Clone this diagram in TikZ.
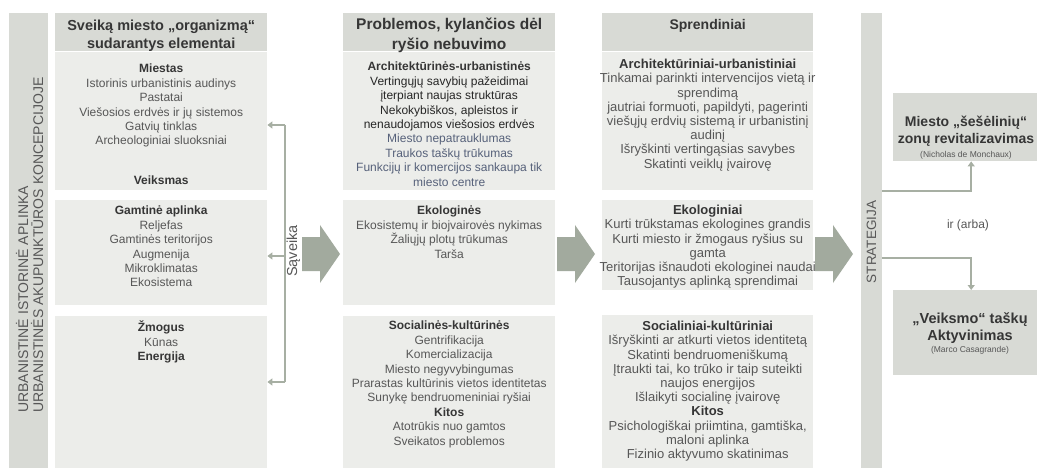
\documentclass[tikz,border=0pt]{standalone}
\usepackage{fontspec}
\setmainfont{Liberation Sans}
\usetikzlibrary{positioning,arrows.meta}
\definecolor{panelgray}{HTML}{D8DAD5}
\definecolor{cellgray}{HTML}{ECEDEA}
\definecolor{arrowgray}{HTML}{A2AA9E}
\definecolor{linkgray}{HTML}{A7AFA3}
\definecolor{titlegray}{HTML}{363636}
\definecolor{textgray}{HTML}{575757}
\definecolor{darkgray}{HTML}{262626}
\definecolor{slategray}{HTML}{56617A}
\newcommand{\subhd}[1]{{\bfseries\color{titlegray}#1}}
\begin{document}
\begin{tikzpicture}[x=1pt,y=-1pt,
  bar/.style={fill=panelgray,inner sep=0pt,anchor=north west},
  headcell/.style={fill=panelgray,inner sep=0pt,anchor=north west,minimum width=212pt,minimum height=38pt},
  cell/.style={fill=cellgray,inner sep=0pt,anchor=north west,minimum width=212pt},
  headtxt/.style={font=\bfseries\fontsize{14.5}{18}\selectfont,text=titlegray,align=center,inner sep=0pt},
  celltxt/.style={font=\fontsize{12}{14.4}\selectfont,text=textgray,align=center,inner sep=0pt},
  soltxt/.style={font=\fontsize{13}{14.2}\selectfont,text=textgray,align=center,inner sep=0pt},
  bartxt/.style={font=\fontsize{12.8}{13}\selectfont,text=textgray,rotate=90,inner sep=0pt},
  link/.style={draw=linkgray,line width=1.8pt,-{Triangle[width=7pt,length=5pt]}},
  bigarrow/.style={fill=arrowgray}]
\useasboundingbox (0,0) rectangle (1037,468);
% side bars
\node[bar,minimum width=39pt,minimum height=455pt] (sidebar) at (9,13) {};
\node[bar,minimum width=21pt,minimum height=455pt] (stratbar) at (861,13) {};
\node[bartxt,font=\fontsize{14}{15}\selectfont,align=left,anchor=west] (sidetxt) at (29.5,413)
  {URBANISTINĖ ISTORINĖ APLINKA\\URBANISTINĖS AKUPUNKTŪROS KONCEPCIJOJE};
\node[bartxt,font=\fontsize{13.5}{15}\selectfont] (strattxt) at (871.5,242) {STRATEGIJA};
% column 1
\node[headcell] (elemhead) at (55,13) {};
\node[cell,minimum height=138pt] (citybox) at (55,52) {};
\node[cell,minimum height=105pt] (naturebox) at (55,200) {};
\node[cell,minimum height=152pt] (humanbox) at (55,316) {};
\node[headtxt,below=7pt of elemhead.north] {Sveiką miesto „organizmą“\\sudarantys elementai};
\node[celltxt,below=12pt of citybox.north] {\subhd{Miestas}\\Istorinis urbanistinis audinys\\Pastatai\\
  Viešosios erdvės ir jų sistemos\\Gatvių tinklas\\Archeologiniai sluoksniai};
\node[celltxt,above=6pt of citybox.south] {\subhd{Veiksmas}};
\node[celltxt,below=6pt of naturebox.north] {\subhd{Gamtinė aplinka}\\Reljefas\\Gamtinės teritorijos\\
  Augmenija\\Mikroklimatas\\Ekosistema};
\node[celltxt,below=5pt of humanbox.north] {\subhd{Žmogus}\\Kūnas\\\subhd{Energija}};
% column 2
\node[headcell] (probhead) at (343,13) {};
\node[cell,minimum height=138pt] (probcity) at (343,52) {};
\node[cell,minimum height=105pt] (probeco) at (343,200) {};
\node[cell,minimum height=152pt] (probsoc) at (343,316) {};
\node[headtxt,font=\bfseries\fontsize{15.5}{20}\selectfont,below=5pt of probhead.north]
  {Problemos, kylančios dėl\\ryšio nebuvimo};
\node[celltxt,below=10pt of probcity.north] {\subhd{Architektūrinės-urbanistinės}\\
  \textcolor{darkgray}{Vertingųjų savybių pažeidimai}\\\textcolor{darkgray}{įterpiant naujas struktūras}\\
  \textcolor{darkgray}{Nekokybiškos, apleistos ir}\\\textcolor{darkgray}{nenaudojamos viešosios erdvės}\\
  \textcolor{slategray}{Miesto nepatrauklumas}\\\textcolor{slategray}{Traukos taškų trūkumas}\\
  \textcolor{slategray}{Funkcijų ir komercijos sankaupa tik}\\\textcolor{slategray}{miesto centre}};
\node[celltxt,below=6pt of probeco.north] {\subhd{Ekologinės}\\Ekosistemų ir biojvairovės nykimas\\
  Žaliųjų plotų trūkumas\\Tarša};
\node[celltxt,below=5pt of probsoc.north] {\subhd{Socialinės-kultūrinės}\\Gentrifikacija\\Komercializacija\\
  Miesto negyvybingumas\\Prarastas kultūrinis vietos identitetas\\Sunykę bendruomeniniai ryšiai\\
  \subhd{Kitos}\\Atotrūkis nuo gamtos\\Sveikatos problemos};
% column 3
\node[headcell,minimum width=211pt] (solhead) at (602,13) {};
\node[cell,minimum width=211pt,minimum height=138pt] (solcity) at (602,52) {};
\node[cell,minimum width=211pt,minimum height=90pt] (soleco) at (602,200) {};
\node[cell,minimum width=211pt,minimum height=153pt] (solsoc) at (602,315) {};
\node[headtxt,font=\bfseries\fontsize{14}{17}\selectfont,below=6pt of solhead.north] {Sprendiniai};
\node[soltxt,below=7pt of solcity.north] {\subhd{Architektūriniai-urbanistiniai}\\
  Tinkamai parinkti intervencijos vietą ir\\sprendimą\\jautriai formuoti, papildyti, pagerinti\\
  viešųjų erdvių sistemą ir urbanistinį\\audinį\\Išryškinti vertingąsias savybes\\Skatinti veiklų įvairovę};
\node[soltxt,below=5pt of soleco.north] {\subhd{Ekologiniai}\\Kurti trūkstamas ekologines grandis\\
  Kurti miesto ir žmogaus ryšius su\\gamta\\Teritorijas išnaudoti ekologinei naudai\\
  Tausojantys aplinką sprendimai};
\node[soltxt,below=6pt of solsoc.north] {\subhd{Socialiniai-kultūriniai}\\Išryškinti ar atkurti vietos identitetą\\
  Skatinti bendruomeniškumą\\Įtraukti tai, ko trūko ir taip suteikti\\naujos energijos\\
  Išlaikyti socialinę įvairovę\\\subhd{Kitos}\\Psichologiškai priimtina, gamtiška,\\maloni aplinka\\
  Fizinio aktyvumo skatinimas};
% strategy boxes
\node[bar,minimum width=156pt,minimum height=68pt] (shadebox) at (893,93) {};
\node[bar,minimum width=156pt,minimum height=85pt] (actbox) at (893,290) {};
\node[headtxt,font=\bfseries\fontsize{14}{17}\selectfont] (shadetxt) at (966,131)
  {Miesto „šešėlinių“\\zonų revitalizavimas};
\node[celltxt,font=\fontsize{8.5}{10}\selectfont] at (966,155) {(Nicholas de Monchaux)};
\node[headtxt,font=\bfseries\fontsize{14.5}{17}\selectfont] (acttxt) at (970,328)
  {„Veiksmo“ taškų\\Aktyvinimas};
\node[celltxt,font=\fontsize{8.5}{10}\selectfont] at (970,350) {(Marco Casagrande)};
\node[celltxt] (orlabel) at (968,225) {ir (arba)};
% big arrows
\foreach \ax in {302,557,815}
  \fill[bigarrow] (\ax,237) -- ++(18,0) -- ++(0,-12) -- ++(20,29) -- ++(-20,29) -- ++(0,-12) -- ++(-18,0) -- cycle;
% interaction bracket
\coordinate (sv1) at (285,125);
\coordinate (sv2) at (285,256);
\coordinate (sv3) at (285,382);
\draw[linkgray,line width=1.8pt] (sv1) -- (sv3);
\foreach \c in {sv1,sv2,sv3}
  \draw[link] (\c) -- (\c -| citybox.east);
\node[bartxt,font=\fontsize{14.5}{16}\selectfont] (saveika) at (293.5,251) {Sąveika};
% strategy links
\coordinate (st1) at (882,191);
\coordinate (st2) at (882,258);
\draw[link] (st1) -| (shadebox.south);
\draw[link] (st2) -| (actbox.north);
\end{tikzpicture}
\end{document}
